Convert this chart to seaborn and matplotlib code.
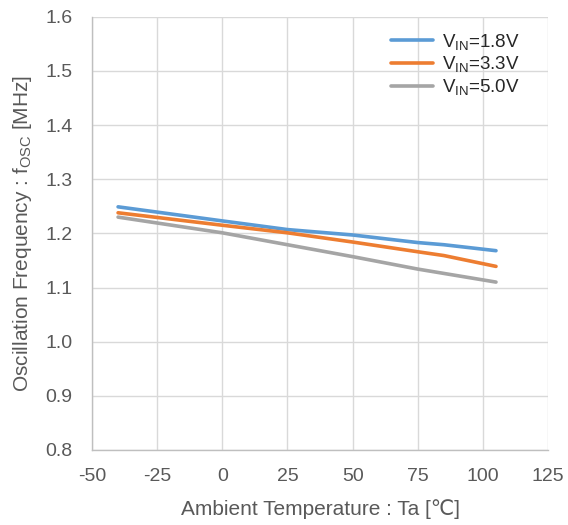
import matplotlib
matplotlib.use("Agg")
import matplotlib.pyplot as plt
import seaborn as sns
import pandas as pd

temps = [-40, 0, 25, 50, 75, 85, 105]
f_18 = [1.249, 1.223, 1.207, 1.197, 1.183, 1.179, 1.168]
f_33 = [1.238, 1.215, 1.201, 1.184, 1.166, 1.159, 1.139]
f_50 = [1.230, 1.201, 1.179, 1.157, 1.134, 1.126, 1.110]
series = ["V$_{\\mathrm{IN}}$=1.8V", "V$_{\\mathrm{IN}}$=3.3V", "V$_{\\mathrm{IN}}$=5.0V"]
colors = ["#5B9BD5", "#ED7D31", "#A5A5A5"]
xticks = [-50, -25, 0, 25, 50, 75, 100, 125]
yticks = [0.8, 0.9, 1.0, 1.1, 1.2, 1.3, 1.4, 1.5, 1.6]

rows = []
for name, vals in zip(series, [f_18, f_33, f_50]):
    for t, v in zip(temps, vals):
        rows.append({"Ta": t, "f": v, "series": name})
df = pd.DataFrame(rows)

sns.set_style("white")
plt.rcParams["font.family"] = ["Liberation Sans", "DejaVu Sans"]
plt.rcParams["mathtext.fontset"] = "custom"
plt.rcParams["mathtext.rm"] = "Liberation Sans"
plt.rcParams["mathtext.it"] = "Liberation Sans"

fig = plt.figure(figsize=(5.68, 5.25), dpi=100)
ax = fig.add_axes([0.162, 0.143, 0.803, 0.825])

sns.lineplot(data=df, x="Ta", y="f", hue="series", palette=colors,
             linewidth=2.6, ax=ax, legend=True)

ax.set_xlim(-50, 125)
ax.set_ylim(0.8, 1.6)
ax.set_xticks(xticks)
ax.set_yticks(yticks)
ax.set_xticklabels([str(v) for v in xticks])
ax.set_yticklabels([f"{v:.1f}" for v in yticks])
ax.grid(True, color="#D9D9D9", linewidth=1.0)
ax.set_axisbelow(True)
for s in ["top", "right"]:
    ax.spines[s].set_visible(False)
for s in ["left", "bottom"]:
    ax.spines[s].set_color("#BFBFBF")
    ax.spines[s].set_linewidth(1.0)
ax.tick_params(axis="x", length=0, labelsize=14, labelcolor="#595959", pad=13)
ax.tick_params(axis="y", length=0, labelsize=14, labelcolor="#595959", pad=14)

ax.set_xlabel("Ambient Temperature : Ta [℃]", fontsize=15, color="#595959", labelpad=10)
ax.set_ylabel("Oscillation Frequency : f$_{\\mathrm{OSC}}$ [MHz]", fontsize=15,
              color="#595959", labelpad=8)

leg = ax.legend(loc="upper left", bbox_to_anchor=(0.656, 0.966), frameon=False,
                fontsize=13.5, handlelength=2.25, handletextpad=0.45,
                labelspacing=0.15, borderaxespad=0.0, borderpad=0.0)
for t in leg.get_texts():
    t.set_color("#262626")

fig.savefig("out.png", dpi=100)
